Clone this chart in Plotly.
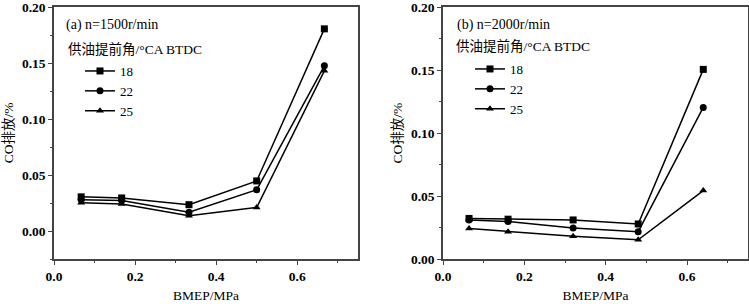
import plotly.graph_objects as go

# Panel (a) n=1500 r/min
bmep_a = [0.067, 0.167, 0.333, 0.500, 0.667]
co_a_18 = [0.0305, 0.0295, 0.0235, 0.0447, 0.1805]
co_a_22 = [0.0280, 0.0272, 0.0168, 0.0368, 0.1475]
co_a_25 = [0.0252, 0.0240, 0.0137, 0.0210, 0.1430]

# Panel (b) n=2000 r/min
bmep_b = [0.064, 0.160, 0.320, 0.480, 0.640]
co_b_18 = [0.0322, 0.0316, 0.0310, 0.0278, 0.1505]
co_b_22 = [0.0310, 0.0298, 0.0247, 0.0217, 0.1203]
co_b_25 = [0.0242, 0.0217, 0.0180, 0.0152, 0.0543]

series_names = ["18", "22", "25"]
symbols = ["square", "circle", "triangle-up"]
panel_titles = ["(a) n=1500r/min", "(b) n=2000r/min"]
legend_title = "供油提前角/°CA BTDC"
x_title = "BMEP/MPa"
y_title = "CO排放/%"

FONT = "Liberation Serif, Times New Roman, Noto Sans CJK SC, serif"

fig = go.Figure()

for name, sym, ys in zip(series_names, symbols, [co_a_18, co_a_22, co_a_25]):
    fig.add_trace(go.Scatter(
        x=bmep_a, y=ys, name=name, mode="lines+markers",
        line=dict(color="black", width=1.5),
        marker=dict(symbol=sym, size=7, color="black"),
        xaxis="x", yaxis="y", legend="legend"))

for name, sym, ys in zip(series_names, symbols, [co_b_18, co_b_22, co_b_25]):
    fig.add_trace(go.Scatter(
        x=bmep_b, y=ys, name=name, mode="lines+markers",
        line=dict(color="black", width=1.5),
        marker=dict(symbol=sym, size=7, color="black"),
        xaxis="x2", yaxis="y2", legend="legend2"))

axis_common = dict(
    showline=True, linecolor="#444", linewidth=1.5, mirror=True,
    ticks="outside", ticklen=4, tickwidth=1.2, tickcolor="#444",
    showgrid=False, zeroline=False, automargin=False,
    ticklabeloverflow="allow",
    tickfont=dict(family=FONT, size=13.5, color="black", weight="bold"),
)

W, H = 749, 304
ml, mr, mt, mb = 54, 1, 7, 45
pw = W - ml - mr
ph = H - mt - mb

def dom(a, b):
    return [(a - ml) / pw, (b - ml) / pw]

xtitle = dict(text=x_title, font=dict(family=FONT, size=13.5), standoff=8)
ytitle = dict(text=y_title, font=dict(family=FONT, size=13.5), standoff=5)

fig.update_layout(
    width=W, height=H,
    margin=dict(l=ml, r=mr, t=mt, b=mb),
    paper_bgcolor="white", plot_bgcolor="white",
    font=dict(family=FONT, color="black"),
    xaxis=dict(domain=dom(54, 358), range=[0, 0.75], dtick=0.2, tick0=0, tickformat=".1f",
               minor=dict(ticks="outside", ticklen=2.5, dtick=0.1, tickcolor="#444"),
               title=xtitle, anchor="y", **axis_common),
    yaxis=dict(range=[-0.025, 0.20001], dtick=0.05, tick0=0, tickformat=".2f",
               minor=dict(ticks="outside", ticklen=2.5, dtick=0.025, tickcolor="#444"),
               title=ytitle, anchor="x", **axis_common),
    xaxis2=dict(domain=dom(443, 748), range=[0, 0.75], dtick=0.2, tick0=0, tickformat=".1f",
                minor=dict(ticks="outside", ticklen=2.5, dtick=0.1, tickcolor="#444"),
                title=xtitle, anchor="y2", **axis_common),
    yaxis2=dict(range=[0, 0.20001], dtick=0.05, tick0=0, tickformat=".2f",
                minor=dict(ticks="outside", ticklen=2.5, dtick=0.025, tickcolor="#444"),
                title=ytitle, anchor="x2", **axis_common),
    legend=dict(x=(80 - ml) / pw, y=(H - mb - 56) / ph, xanchor="left", yanchor="top",
                bgcolor="rgba(0,0,0,0)", font=dict(family=FONT, size=13),
                itemwidth=30, tracegroupgap=0),
    legend2=dict(x=(470 - ml) / pw, y=(H - mb - 54) / ph, xanchor="left", yanchor="top",
                 bgcolor="rgba(0,0,0,0)", font=dict(family=FONT, size=13),
                 itemwidth=30, tracegroupgap=0),
    showlegend=True,
)

annotations = [
    dict(text=panel_titles[0], x=64, y=25, size=14),
    dict(text=legend_title, x=66, y=49, size=13.5),
    dict(text=panel_titles[1], x=455, y=25, size=14),
    dict(text=legend_title, x=454, y=46, size=13.5),
]
for a in annotations:
    fig.add_annotation(
        text=a["text"], xref="paper", yref="paper",
        x=(a["x"] - ml) / pw, y=(H - mb - a["y"]) / ph,
        xanchor="left", yanchor="middle", showarrow=False,
        font=dict(family=FONT, size=a["size"], color="black"))

fig.write_html(
    "out.html",
    config={"displayModeBar": False},
    post_script="document.body.style.margin='0';document.body.style.overflow='hidden';",
)
